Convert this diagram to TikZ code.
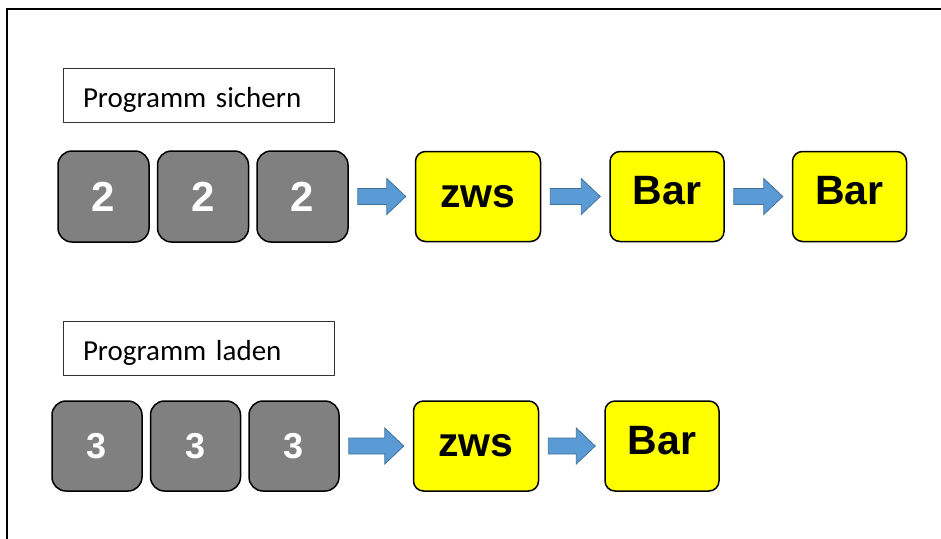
\documentclass[tikz,border=0pt]{standalone}
\usepackage{fontspec}
\setmainfont{Carlito}
\newfontfamily\keyfont{Liberation Sans}
\usepackage{xcolor}
\usetikzlibrary{positioning, calc}
\definecolor{keygray}{RGB}{128,128,128}
\definecolor{keyyellow}{RGB}{255,255,0}
\definecolor{arrowblue}{RGB}{91,155,213}
\definecolor{arrowedge}{RGB}{65,113,156}
\tikzset{
  labelnode/.style={draw=black!80, line width=0.8pt, rectangle, minimum width=271pt, minimum height=54pt, inner sep=0pt, text width=231pt, align=left, text height=23pt, text depth=0pt, font=\fontsize{29}{33}\selectfont},
  digitnode/.style={draw, line width=1.5pt, rounded corners=14pt, fill=keygray, minimum width=91pt, minimum height=91pt, inner sep=0pt, text=white, font=\keyfont\bfseries\fontsize{42}{50}\selectfont},
  smalldigit/.style={digitnode, minimum width=90pt, minimum height=90pt, font=\keyfont\bfseries\fontsize{36}{42}\selectfont},
  keynode/.style={draw, line width=1.5pt, rounded corners=10pt, fill=keyyellow, minimum width=114pt, minimum height=90pt, inner sep=0pt, font=\keyfont\bfseries\fontsize{41}{48}\selectfont},
  widekey/.style={keynode, minimum width=125pt},
  barkey/.style={keynode, text depth=12pt},
  blockarrow/.style={fill=arrowblue, draw=arrowedge, line width=0.8pt, line join=miter}
}
% block arrow from one key to the next
\newcommand{\flowarrow}[2]{%
  \path[blockarrow] let \p1=(#1.east), \p2=(#2.west) in
    (\x1+9pt,\y1+8pt) -- (\x2-28pt,\y1+8pt) -- (\x2-28pt,\y1+18pt) -- (\x2-9pt,\y1)
    -- (\x2-28pt,\y1-18pt) -- (\x2-28pt,\y1-8pt) -- (\x1+9pt,\y1-8pt) -- cycle;}

\begin{document}
\begin{tikzpicture}[x=1pt, y=-1pt]
\useasboundingbox (0,0) rectangle (941,538);

% Frame
\draw[line width=2pt] (6.5,540) -- (6.5,8.5) -- (943,8.5);

% Programm sichern
\node[labelnode] (L1) at (198.5,95.5) {Programm sichern};
\node[digitnode] (A1) at (103.5,196.5) {2};
\node[digitnode, right=7pt of A1] (A2) {2};
\node[digitnode, right=7pt of A2] (A3) {2};
\node[widekey, right=66pt of A3] (A4) {zws};
\node[barkey, right=68pt of A4] (A5) {Bar};
\node[barkey, right=67pt of A5] (A6) {Bar};

% Programm laden
\node[labelnode] (L2) at (198.5,348.5) {Programm laden};
\node[smalldigit] (B1) at (97,446) {3};
\node[smalldigit, right=7pt of B1] (B2) {3};
\node[smalldigit, right=7pt of B2] (B3) {3};
\node[widekey, right=73pt of B3] (B4) {zws};
\node[barkey, right=65pt of B4] (B5) {Bar};

% Arrows
\flowarrow{A3}{A4}
\flowarrow{A4}{A5}
\flowarrow{A5}{A6}
\flowarrow{B3}{B4}
\flowarrow{B4}{B5}

\end{tikzpicture}
\end{document}
